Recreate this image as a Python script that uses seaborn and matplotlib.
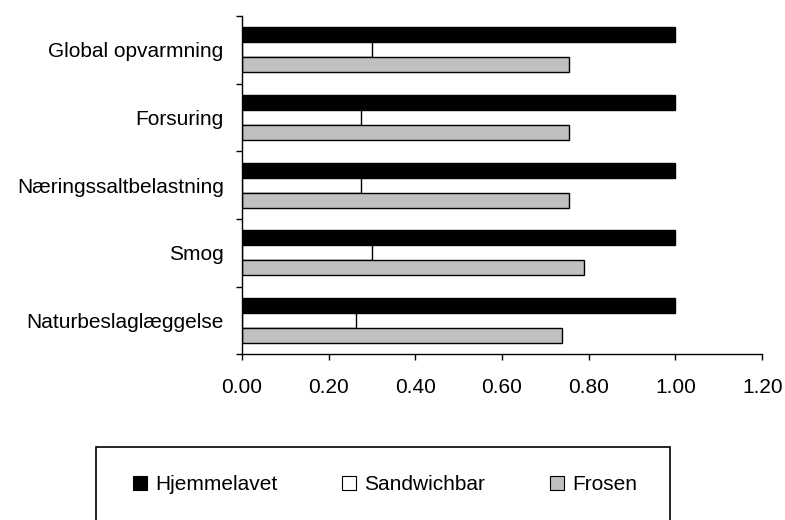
import numpy as np
import pandas as pd
import matplotlib.pyplot as plt
import seaborn as sns
from matplotlib.patches import Rectangle, Patch

# categories and series
categories = ['Global opvarmning', 'Forsuring', 'Næringssaltbelastning', 'Smog', 'Naturbeslaglæggelse']
series = ['Hjemmelavet', 'Sandwichbar', 'Frosen']
hjemmelavet = [1.00, 1.00, 1.00, 1.00, 1.00]
sandwichbar = [0.30, 0.275, 0.275, 0.30, 0.264]
frosen = [0.754, 0.754, 0.754, 0.79, 0.739]
colors = ['#000000', '#FFFFFF', '#C0C0C0']
xticks = [0.0, 0.2, 0.4, 0.6, 0.8, 1.0, 1.2]

df = pd.DataFrame({
    'Kategori': categories * 3,
    'Serie': [s for s in series for _ in categories],
    'Værdi': hjemmelavet + sandwichbar + frosen,
})

sns.set_style('ticks')
plt.rcParams['font.family'] = ['Liberation Sans', 'DejaVu Sans']
plt.rcParams['font.size'] = 15
plt.rcParams['text.color'] = 'black'
plt.rcParams['xtick.color'] = 'black'
plt.rcParams['ytick.color'] = 'black'
plt.rcParams['xtick.labelcolor'] = 'black'
plt.rcParams['ytick.labelcolor'] = 'black'

fig = plt.figure(figsize=(7.85, 5.2), dpi=100)
ax = fig.add_axes([0.308, 0.319, 0.663, 0.650])

sns.barplot(data=df, y='Kategori', x='Værdi', hue='Serie', order=categories,
            hue_order=series, palette=colors, orient='h', width=0.666,
            edgecolor='black', linewidth=1, saturation=1, legend=False, ax=ax)

ax.set_xlim(0, 1.2)
ax.set_ylim(len(categories) - 0.5, -0.5)
ax.set_xticks(xticks)
ax.set_xticklabels([f'{t:.2f}' for t in xticks], fontsize=15)
ax.set_xlabel('')
ax.set_ylabel('')

# ticks at category boundaries, labels at centres
ax.set_yticks(np.arange(-0.5, len(categories), 1.0))
ax.set_yticklabels([])
ax.set_yticks(np.arange(len(categories)), minor=True)
ax.set_yticklabels(categories, minor=True, fontsize=15)
ax.tick_params(axis='y', which='major', length=4, width=1)
ax.tick_params(axis='y', which='minor', length=0, pad=13)
ax.tick_params(axis='x', length=4, width=1, pad=13)

for side in ['top', 'right']:
    ax.spines[side].set_visible(False)
for side in ['left', 'bottom']:
    ax.spines[side].set_color('black')
    ax.spines[side].set_linewidth(1)

# legend box (runs off the bottom edge like the original)
fig.patches.append(Rectangle((96 / 785, -0.1), (670 - 96) / 785, 0.1 + 1 - 447 / 520,
                             transform=fig.transFigure, fill=False,
                             edgecolor='black', linewidth=1.2))
handles = [Patch(facecolor=c, edgecolor='black', linewidth=0.8) for c in colors]
fig.legend(handles, series, loc='center', bbox_to_anchor=(385 / 785, 1 - 485 / 520),
           ncol=3, frameon=False, handlelength=0.67, handleheight=0.67,
           handletextpad=0.4, columnspacing=3.1, fontsize=15)

fig.savefig('out.png', dpi=100)
